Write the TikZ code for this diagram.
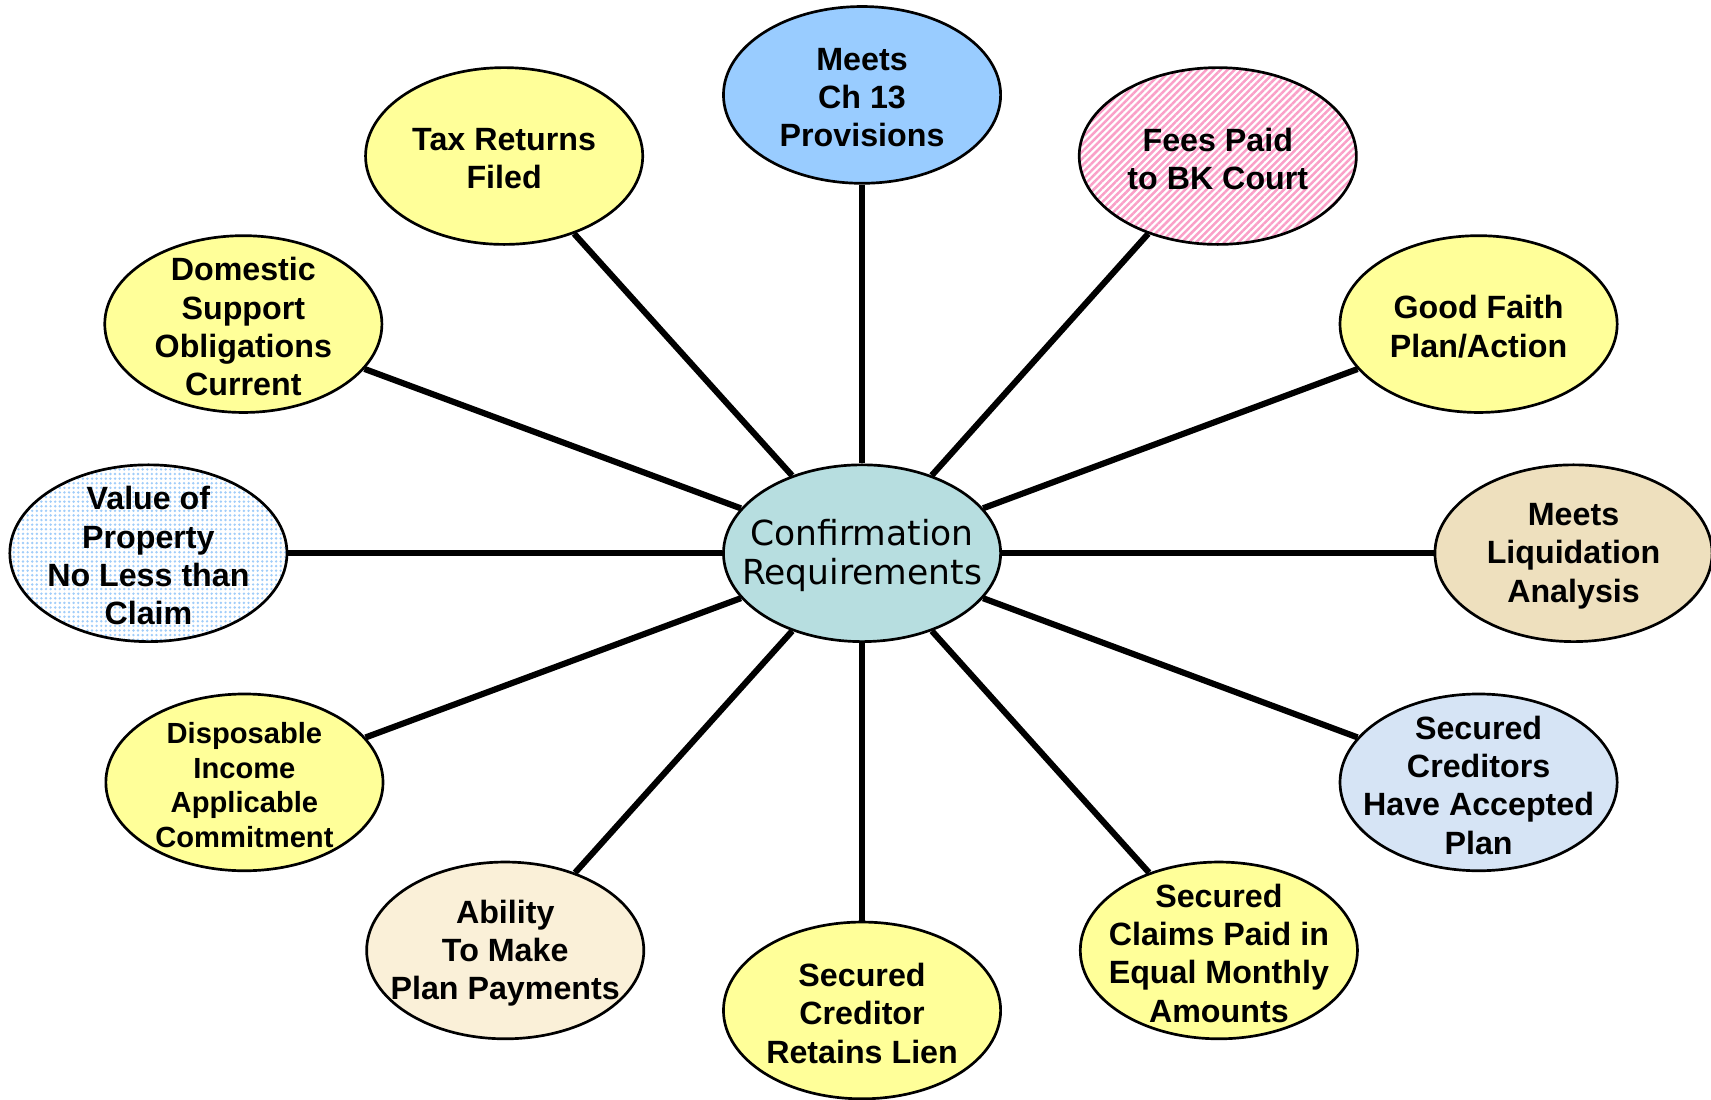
\documentclass[tikz,border=0pt]{standalone}
\usepackage{fontspec}
\newfontfamily\bubblefont{Liberation Sans}
\newfontfamily\hubfont{DejaVu Sans}
\usetikzlibrary{shapes.geometric, patterns.meta}
\usepackage{xcolor}

\definecolor{bubyellow}{RGB}{255,255,153}
\definecolor{hubteal}{RGB}{183,222,224}
\definecolor{skyblue}{RGB}{153,204,255}
\definecolor{stripepink}{RGB}{250,160,200}
\definecolor{dotblue}{RGB}{160,205,250}
\definecolor{parchment}{RGB}{238,224,190}
\definecolor{iceblue}{RGB}{214,228,245}
\definecolor{cream}{RGB}{250,240,216}

\tikzset{
  bubble/.style={ellipse, draw=black, line width=0.7pt, minimum width=2.54cm, minimum height=1.62cm, inner sep=0pt},
  bubtext/.style={font=\bubblefont\bfseries\fontsize{8.4}{10}\selectfont, align=center, inner sep=0pt, yshift=-0.025cm},
  smalltext/.style={bubtext, font=\bubblefont\bfseries\fontsize{7.6}{9.1}\selectfont},
  spoke/.style={line width=1.6pt, line cap=butt}
}

\begin{document}
\begin{tikzpicture}[line cap=round,line join=round,x=1cm,y=1cm]
\useasboundingbox (0,0) rectangle (15.68,10.08);

% centre
\node [bubble, fill=hubteal, label={[font=\hubfont\fontsize{9}{10}\selectfont, align=center, inner sep=0pt, yshift=-0.02cm]center:{Confirmation\\Requirements}}] (conf) at (7.90,5.01) {};

% top row
\node [bubble, fill=skyblue, label={[bubtext]center:{Meets\\Ch 13\\Provisions}}] (ch13) at (7.90,9.21) {};
\node [bubble, fill=bubyellow, label={[bubtext]center:{Tax Returns\\Filed}}] (tax) at (4.62,8.65) {};
\node [bubble, preaction={fill=white}, pattern={Lines[angle=45,distance=1.3pt,line width=0.65pt]}, pattern color=stripepink, label={[bubtext]center:{Fees Paid\\to BK Court}}] (fees) at (11.16,8.65) {};

% sides
\node [bubble, fill=bubyellow, label={[bubtext]center:{Domestic\\Support\\Obligations\\Current}}] (dom) at (2.23,7.11) {};
\node [bubble, fill=bubyellow, label={[bubtext]center:{Good Faith\\Plan/Action}}] (faith) at (13.55,7.11) {};
\node [bubble, preaction={fill=white}, pattern={Dots[distance=1.2pt,radius=0.35pt]}, pattern color=dotblue, label={[bubtext]center:{Value of\\Property\\No Less than\\Claim}}] (value) at (1.36,5.01) {};
\node [bubble, fill=parchment, label={[bubtext]center:{Meets\\Liquidation\\Analysis}}] (liq) at (14.42,5.01) {};
\node [bubble, fill=bubyellow, label={[smalltext]center:{Disposable\\Income\\Applicable\\Commitment}}] (disp) at (2.24,2.91) {};
\node [bubble, fill=iceblue, label={[bubtext]center:{Secured\\Creditors\\Have Accepted\\Plan}}] (accept) at (13.55,2.91) {};

% bottom row
\node [bubble, fill=cream, label={[bubtext]center:{Ability\\To Make\\Plan Payments}}] (ability) at (4.63,1.37) {};
\node [bubble, fill=bubyellow, label={[bubtext]center:{Secured\\Creditor\\Retains Lien}}] (lien) at (7.90,0.82) {};
\node [bubble, fill=bubyellow, label={[bubtext]center:{Secured\\Claims Paid in\\Equal Monthly\\Amounts}}] (claims) at (11.17,1.37) {};

% spokes
\foreach \b in {ch13,tax,fees,dom,faith,value,liq,disp,accept,ability,lien,claims}
  \draw [spoke] (conf) -- (\b);

\end{tikzpicture}
\end{document}
